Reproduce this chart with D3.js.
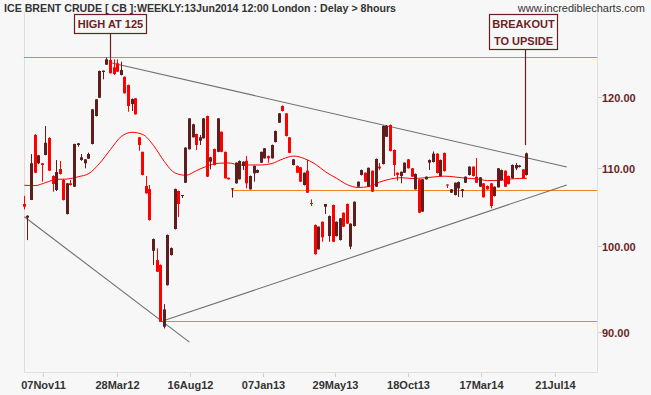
<!DOCTYPE html>
<html lang="en">
<head>
<meta charset="UTF-8">
<title>ICE Brent Crude Weekly</title>
<script src="https://d3js.org/d3.v7.min.js"></script>
<style>
  body { margin: 0; background: #f7f7f7; }
  svg { display: block; }
  .lbl { font-family: "Liberation Sans", Arial, sans-serif; font-weight: bold; font-size: 11px; }
</style>
</head>
<body>
<div id="chart"></div>
<script>
// weekly bars, index 0 = first bar on the chart
const openPx = [105.25,103.5,105.76,114.51,110.62,110.62,111.75,114.09,108.91,107.06,
  109.84,108.38,103.97,107.94,107.5,113.12,111.06,110.62,111.24,113.26,
  117.2,119.85,123.68,124.79,125.51,124.39,125.0,123.23,122.97,121.73,
  118.93,119.77,114.19,112.18,107.59,107.19,99.39,98.27,97.68,90.58,
  95.31,98.88,102.08,106.93,106.28,108.02,112.53,114.19,114.65,113.71,
  114.05,117.2,110.84,112.57,112.18,114.97,112.18,108.68,107.19,107.94,
  108.47,110.26,110.96,107.15,109.27,109.35,110.7,111.29,111.6,111.29,
  113.53,116.24,118.65,117.58,114.19,110.39,110.26,110.08,107.72,109.62,
  105.38,102.58,99.57,102.99,104.9,101.2,105.12,101.2,100.71,104.13,
  105.25,99.9,102.45,107.5,109.05,109.35,107.5,109.62,107.5,110.17,
  110.52,114.27,115.92,112.43,109.35,108.91,109.35,111.15,109.94,107.15,
  108.47,104.27,108.47,110.7,110.79,111.93,108.91,112.03,107.78,106.71,
  106.41,107.28,106.93,108.02,109.05,110.17,108.82,107.5,107.94,107.59,
  107.94,106.28,107.41,108.38,109.62,108.91,108.6,109.94,110.12,109.8,
  109.05];
const highPx = [106.3,103.8,111.88,114.65,111.75,110.66,115.78,114.2,109.0,111.06,
  110.93,108.5,108.0,108.38,113.3,113.4,111.88,111.2,112.06,118.2,
  119.65,123.9,123.9,125.9,126.0,125.61,125.6,125.25,123.0,121.8,
  119.75,119.8,114.25,112.2,108.91,107.72,100.9,99.69,97.75,93.12,
  101.4,99.8,107.25,107.0,106.41,112.8,116.9,116.1,114.7,114.51,
  116.9,117.25,111.5,112.63,116.9,115.0,112.2,108.7,107.32,110.73,
  111.0,110.87,111.6,108.98,110.32,109.78,112.2,112.7,111.67,113.18,
  115.13,117.62,118.72,117.62,114.23,111.2,110.33,110.12,109.38,111.06,
  105.85,102.64,102.4,103.02,105.25,103.78,105.18,103.02,103.46,104.16,
  105.31,102.79,105.57,108.19,109.78,109.38,110.04,109.65,111.27,110.66,
  115.85,115.92,115.99,112.5,109.38,109.51,110.73,111.2,109.98,109.25,
  108.51,108.51,108.85,111.13,112.23,111.99,111.13,112.07,107.8,107.19,
  108.05,108.18,107.19,108.85,110.2,110.2,111.33,108.77,107.98,107.66,
  107.98,107.53,109.98,109.78,109.65,108.98,110.46,110.66,110.39,109.84,
  112.08];
const lowPx = [104.55,100.7,105.76,109.3,110.5,108.16,111.7,109.58,106.84,106.93,
  109.1,105.7,103.9,107.65,107.45,112.89,110.96,109.94,111.2,113.2,
  117.13,119.8,122.59,124.75,123.46,123.23,123.68,123.16,120.47,117.81,
  117.92,117.4,112.33,108.98,106.6,103.14,97.68,96.84,91.1,90.39,
  95.25,98.82,102.01,103.58,106.02,107.98,112.5,114.16,112.43,113.12,
  114.0,108.78,109.8,110.32,112.13,112.13,108.57,108.44,106.08,107.9,
  108.44,109.71,107.28,107.12,108.16,109.3,110.66,111.26,110.69,111.26,
  113.46,116.2,117.85,114.3,112.0,110.33,109.31,108.12,107.65,106.67,
  104.99,98.93,99.54,100.5,103.97,100.5,100.46,101.14,100.65,102.33,
  102.71,99.6,102.39,107.45,108.98,108.12,107.45,106.8,107.45,109.71,
  110.46,114.23,112.22,108.91,108.29,107.94,109.31,109.91,108.78,107.12,
  104.09,104.23,108.44,109.71,110.72,109.25,108.85,109.51,107.32,106.67,
  106.35,106.15,106.11,107.98,108.98,108.85,107.98,107.45,106.08,107.12,
  104.69,106.22,107.38,108.31,107.45,107.78,108.57,109.71,110.05,108.57,
  108.98];
const closePx = [104.9,103.75,110.62,109.35,111.7,110.39,113.43,109.62,107.85,109.44,
  109.18,105.76,107.94,107.72,113.26,113.35,111.43,111.15,111.88,118.16,
  119.62,123.83,123.88,125.61,123.49,123.38,123.73,123.98,120.5,118.65,
  119.66,117.44,113.12,109.05,106.63,103.2,100.83,96.88,91.13,92.52,
  101.33,99.73,107.19,105.25,106.41,112.76,116.86,116.02,113.12,114.19,
  116.86,108.82,111.43,110.39,116.86,112.18,108.6,108.47,107.28,110.7,
  110.93,110.84,107.94,108.91,110.26,109.71,112.18,112.67,111.29,113.12,
  115.07,117.58,117.92,114.37,112.04,111.15,109.35,108.16,109.35,106.71,
  105.25,98.99,102.37,101.05,105.25,103.71,100.5,102.99,103.42,102.37,
  102.75,102.75,105.54,108.16,109.71,108.16,110.01,106.84,111.2,109.94,
  115.78,115.78,112.29,110.39,109.05,109.48,110.7,109.94,108.82,109.18,
  104.13,108.47,108.82,111.06,111.93,109.31,111.06,109.57,107.65,107.15,
  108.02,108.11,107.15,108.82,110.17,108.91,108.02,108.73,106.11,107.15,
  104.99,107.5,109.94,109.71,107.5,107.85,110.39,110.39,110.32,108.6,
  111.97];

// moving average, read every third bar
const maBars = [0,3,6,9,12,15,18,21,24,27,30,33,36,39,42,45,48,51,54,57,60,63,66,69,
  72,75,78,81,84,87,90,93,96,99,102,105,108,111,114,117,120,123,126,129,132,135,138,140];
const maValues = [107.68,107.64,108.05,108.47,108.51,108.81,109.25,110.62,112.5,114.3,114.89,114.58,
  113.05,110.86,109.31,109.01,109.64,110.26,110.62,110.66,110.39,110.39,110.39,110.59,
  111.2,111.6,111.26,110.52,109.44,108.6,107.76,107.39,107.52,108.11,108.51,108.69,
  108.57,108.65,108.78,108.89,108.78,108.62,108.53,108.31,108.3,108.49,108.59,108.6];

// axis
const tickBars = [5.29,25.75,46.09,66.4,86.65,107.0,127.3,147.7];
const tickLabels = ["07Nov11","28Mar12","16Aug12","07Jan13","29May13","18Oct13","17Mar14","21Jul14"];
const priceTicks = [90,100,110,120];

// horizontal support / resistance levels: [price, first bar]
const levelPrices = [125.9, 107.1, 91.2];
const levelStart = [-0.1, 57.8, 38.7];

// trend lines: [bar, price] endpoints
const trendLines = [
  [[24.4,125.05],[151.1,110.12]],
  [[0,103.62],[46.0,88.89]],
  [[38.7,91.24],[151.1,107.72]]
];

const notes = [
  {lines:["HIGH AT 125"], bar:24, price:125.9},
  {lines:["BREAKOUT","TO UPSIDE"], bar:139.4, price:113.1}
];

const W = 651, H = 395;
const plot = {left: 24, right: 597, top: 12, bottom: 372};

const svg = d3.select("#chart").append("svg")
  .attr("width", W).attr("height", H)
  .attr("viewBox", `0 0 ${W} ${H}`);

svg.append("rect").attr("width", W).attr("height", H).attr("fill", "#f7f7f7");

const x = d3.scaleLinear().domain([0, 140]).range([24.3, 526.9]);
const y = d3.scaleLog().domain([90, 120]).range([332, 96.7]);

// frame
svg.append("path")
  .attr("d", `M${plot.left + .5},${plot.top}V${plot.bottom + .5}H${plot.right + .5}V${plot.top}`)
  .attr("fill", "none").attr("stroke", "#dedede");

// x ticks
const xg = svg.append("g");
tickBars.forEach((b, i) => {
  const px = Math.round(x(b)) + .5;
  xg.append("line").attr("x1", px).attr("x2", px).attr("y1", plot.bottom + 1).attr("y2", plot.bottom + 5)
    .attr("stroke", "#d0d0d0");
  xg.append("text").attr("class", "lbl").attr("x", px).attr("y", 389)
    .attr("text-anchor", "middle").attr("fill", "#333").text(tickLabels[i]);
});

// y ticks
const yg = svg.append("g");
priceTicks.forEach(p => {
  const py = Math.round(y(p)) + .5;
  yg.append("line").attr("x1", plot.right + 1).attr("x2", plot.right + 5).attr("y1", py).attr("y2", py)
    .attr("stroke", "#d0d0d0");
  yg.append("text").attr("class", "lbl").attr("x", 602).attr("y", py + 4)
    .attr("fill", "#6b1f1f").text(p.toFixed(2));
});

// levels
levelPrices.forEach((p, i) => {
  const py = Math.round(y(p)) + .5;
  svg.append("line").attr("x1", Math.max(plot.left, x(levelStart[i]))).attr("x2", plot.right)
    .attr("y1", py).attr("y2", py).attr("stroke", "#f0841e").attr("stroke-width", 1);
});

// trend lines
trendLines.forEach(t => {
  svg.append("line")
    .attr("x1", x(t[0][0])).attr("y1", y(t[0][1]))
    .attr("x2", x(t[1][0])).attr("y2", y(t[1][1]))
    .attr("stroke", "#6e6e6e").attr("stroke-width", 1.1);
});

// moving average
const maLine = d3.line().x(d => x(d[0])).y(d => y(d[1])).curve(d3.curveMonotoneX);
svg.append("path")
  .datum(maBars.map((b, i) => [b, maValues[i]]))
  .attr("d", maLine).attr("fill", "none").attr("stroke", "#ff0000").attr("stroke-width", 1);

// candles
const bars = d3.range(openPx.length).map(i => ({
  i, o: openPx[i], h: highPx[i], l: lowPx[i], c: closePx[i]
}));
const upCol = "#5e1e1e", downCol = "#ff0000";
const cg = svg.append("g");
const cand = cg.selectAll("g").data(bars).join("g");
cand.append("line")
  .attr("x1", d => Math.round(x(d.i) - 1.5) + 1.5)
  .attr("x2", d => Math.round(x(d.i) - 1.5) + 1.5)
  .attr("y1", d => y(d.h)).attr("y2", d => y(d.l))
  .attr("stroke", d => d.c >= d.o ? upCol : downCol).attr("stroke-width", 1);
cand.append("rect")
  .attr("x", d => Math.round(x(d.i) - 1.5))
  .attr("width", 3)
  .attr("y", d => y(Math.max(d.o, d.c)))
  .attr("height", d => Math.max(1, y(Math.min(d.o, d.c)) - y(Math.max(d.o, d.c))))
  .attr("fill", d => d.c >= d.o ? upCol : downCol);

// annotations
const noteBoxes = [{x0: 74, x1: 146, y0: 14, y1: 33}, {x0: 489, x1: 557, y0: 14, y1: 49}];
notes.forEach((n, k) => {
  const b = noteBoxes[k];
  const ax = Math.round(x(n.bar)) + .5;
  svg.append("line").attr("x1", ax).attr("x2", ax).attr("y1", b.y1).attr("y2", y(n.price))
    .attr("stroke", "#6b1f1f").attr("stroke-width", 1.2);
  svg.append("rect").attr("x", b.x0 + .5).attr("y", b.y0 + .5)
    .attr("width", b.x1 - b.x0).attr("height", b.y1 - b.y0)
    .attr("fill", "#f7f7f7").attr("stroke", "#6b1f1f").attr("stroke-width", 1.2);
  n.lines.forEach((t, j) => {
    svg.append("text").attr("class", "lbl")
      .attr("x", (b.x0 + b.x1) / 2 + .5).attr("y", b.y0 + 14 + j * 17)
      .attr("text-anchor", "middle").attr("fill", "#6b1f1f").text(t);
  });
});

// header
svg.append("text").attr("class", "lbl").attr("x", 4).attr("y", 12).attr("fill", "#333")
  .attr("textLength", 392).attr("lengthAdjust", "spacingAndGlyphs")
  .text("ICE BRENT CRUDE [ CB ]:WEEKLY:13Jun2014 12:00 London : Delay > 8hours");
svg.append("text").attr("x", 645).attr("y", 12).attr("text-anchor", "end")
  .attr("font-family", "Liberation Sans, Arial, sans-serif").attr("font-size", 11).attr("fill", "#333")
  .text("www.incrediblecharts.com");
</script>
</body>
</html>
